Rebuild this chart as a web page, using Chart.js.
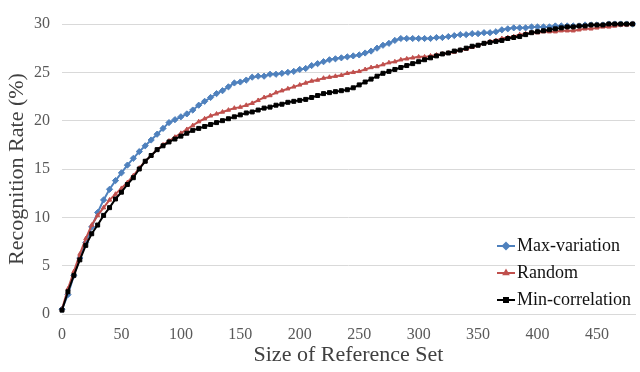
<!DOCTYPE html>
<html>
<head>
<meta charset="utf-8">
<script src="https://cdn.jsdelivr.net/npm/chart.js@4/dist/chart.umd.min.js"></script>
<style>
  html, body { margin: 0; padding: 0; background: #fff; }
  #wrap { width: 640px; height: 372px; }
</style>
</head>
<body>
<div id="wrap"><canvas id="chart" width="640" height="372"></canvas></div>
<script>
// size of reference set
const refSize = [0, 5, 10, 15, 20, 25, 30, 35, 40, 45, 50, 55, 60, 65, 70, 75, 80, 85, 90, 95,
  100, 105, 110, 115, 120, 125, 130, 135, 140, 145, 150, 155, 160, 165, 170, 175, 180, 185, 190, 195,
  200, 205, 210, 215, 220, 225, 230, 235, 240, 245, 250, 255, 260, 265, 270, 275, 280, 285, 290, 295,
  300, 305, 310, 315, 320, 325, 330, 335, 340, 345, 350, 355, 360, 365, 370, 375, 380, 385, 390, 395,
  400, 405, 410, 415, 420, 425, 430, 435, 440, 445, 450, 455, 460, 465, 470, 475, 480];

const xTicks = [0, 50, 100, 150, 200, 250, 300, 350, 400, 450];

const maxVariation = [0.5, 2.0, 4.0, 5.8, 7.4, 9.0, 10.5, 11.8, 12.9, 13.8, 14.6, 15.4, 16.1, 16.8, 17.4, 18.0, 18.6, 19.2, 19.8, 20.1,
  20.4, 20.7, 21.1, 21.6, 22.0, 22.4, 22.8, 23.1, 23.5, 23.9, 24.0, 24.2, 24.5, 24.6, 24.6, 24.8, 24.8, 24.9, 25.0, 25.1,
  25.3, 25.4, 25.7, 25.9, 26.1, 26.3, 26.4, 26.5, 26.6, 26.7, 26.8, 27.0, 27.2, 27.5, 27.8, 28.0, 28.3, 28.5, 28.5, 28.5,
  28.5, 28.5, 28.5, 28.6, 28.6, 28.7, 28.8, 28.9, 28.9, 29.0, 29.0, 29.1, 29.1, 29.2, 29.4, 29.5, 29.6, 29.6, 29.6, 29.7,
  29.7, 29.7, 29.7, 29.8, 29.8, 29.8, 29.8, 29.8, 29.9, 29.9, 29.9, 29.9, 30.0, 30.0, 30.0, 30.0, 30.0];

const random = [0.5, 2.6, 4.4, 6.2, 7.8, 9.2, 10.2, 11.0, 11.8, 12.4, 13.0, 13.6, 14.3, 15.1, 15.8, 16.4, 17.0, 17.5, 17.9, 18.3,
  18.7, 19.1, 19.5, 19.9, 20.2, 20.5, 20.7, 20.9, 21.1, 21.3, 21.4, 21.6, 21.8, 22.1, 22.4, 22.6, 22.9, 23.1, 23.3, 23.5,
  23.7, 23.9, 24.1, 24.2, 24.4, 24.5, 24.6, 24.7, 24.9, 25.0, 25.1, 25.3, 25.5, 25.6, 25.8, 26.0, 26.1, 26.3, 26.4, 26.5,
  26.6, 26.6, 26.7, 26.8, 26.9, 27.0, 27.1, 27.3, 27.4, 27.6, 27.8, 28.0, 28.2, 28.3, 28.5, 28.6, 28.7, 28.9, 29.0, 29.1,
  29.1, 29.2, 29.2, 29.2, 29.3, 29.3, 29.3, 29.4, 29.5, 29.5, 29.6, 29.7, 29.7, 29.8, 29.9, 29.9, 30.0];

const minCorrelation = [0.4, 2.3, 4.0, 5.6, 7.1, 8.3, 9.2, 10.2, 11.0, 11.9, 12.6, 13.4, 14.1, 15.0, 15.8, 16.4, 17.0, 17.4, 17.8, 18.1,
  18.4, 18.7, 19.0, 19.2, 19.4, 19.6, 19.8, 20.0, 20.2, 20.4, 20.6, 20.8, 20.9, 21.1, 21.3, 21.4, 21.6, 21.7, 21.9, 22.0,
  22.1, 22.2, 22.4, 22.6, 22.8, 22.9, 23.0, 23.1, 23.2, 23.4, 23.7, 24.0, 24.3, 24.6, 24.9, 25.1, 25.3, 25.5, 25.7, 25.9,
  26.1, 26.3, 26.5, 26.7, 26.9, 27.0, 27.2, 27.3, 27.5, 27.7, 27.8, 28.0, 28.1, 28.2, 28.3, 28.5, 28.6, 28.7, 28.9, 29.1,
  29.2, 29.3, 29.4, 29.5, 29.6, 29.7, 29.7, 29.8, 29.8, 29.9, 29.9, 29.9, 30.0, 30.0, 30.0, 30.0, 30.0];

const seriesNames = ['Max-variation', 'Random', 'Min-correlation'];

const FONT = '"Liberation Serif", "Times New Roman", serif';

function pts(ys) {
  return ys.map((y, i) => ({ x: refSize[i], y: y }));
}

function makeSet(label, ys, color, style, r) {
  return {
    label: label,
    data: pts(ys),
    borderColor: color,
    backgroundColor: color,
    borderWidth: 2,
    pointStyle: style,
    pointRadius: r,
    pointBorderWidth: 1,
    tension: 0,
    clip: 6
  };
}

// legend drawn inside the plot, lower right
const legendInPlot = {
  id: 'legendInPlot',
  afterDraw(chart) {
    const ctx = chart.ctx;
    const x0 = 497, rows = [246, 273, 300];
    ctx.save();
    chart.data.datasets.slice().reverse().forEach((ds, k) => {
      const y = rows[k];
      ctx.strokeStyle = ds.borderColor;
      ctx.lineWidth = 2;
      ctx.beginPath();
      ctx.moveTo(x0, y);
      ctx.lineTo(x0 + 18, y);
      ctx.stroke();
      ctx.fillStyle = ds.borderColor;
      ctx.strokeStyle = ds.borderColor;
      Chart.helpers.drawPoint(ctx, { pointStyle: ds.pointStyle, radius: ds.pointRadius, borderWidth: 1, rotation: 0 }, x0 + 9, y);
      ctx.fillStyle = '#111';
      ctx.font = '18px ' + FONT;
      ctx.textBaseline = 'middle';
      ctx.textAlign = 'left';
      ctx.fillText(ds.label, x0 + 20, y);
    });
    ctx.restore();
  }
};

const chart = new Chart(document.getElementById('chart').getContext('2d'), {
  type: 'line',
  data: {
    datasets: [
      makeSet(seriesNames[2], minCorrelation, '#000000', 'rect', 2.8),
      makeSet(seriesNames[1], random, '#c0504d', 'triangle', 2.4),
      makeSet(seriesNames[0], maxVariation, '#4f81bd', 'rectRot', 3.1)
    ]
  },
  options: {
    responsive: false,
    animation: false,
    devicePixelRatio: 1,
    layout: { padding: { top: 24, right: 1, left: 0, bottom: 0 } },
    plugins: {
      legend: { display: false },
      tooltip: { enabled: false }
    },
    scales: {
      x: {
        type: 'linear',
        min: 0,
        max: 482,
        afterFit: s => { s.height = 58; s.paddingLeft = 0; s.paddingRight = 0; },
        afterBuildTicks: s => { s.ticks = xTicks.map(v => ({ value: v })); },
        ticks: { autoSkip: false, color: '#595959', font: { family: FONT, size: 16 }, padding: 11, maxRotation: 0 },
        grid: { display: false, drawTicks: false },
        border: { display: true, color: '#d9d9d9', width: 1 },
        title: { display: true, text: 'Size of Reference Set', color: '#404040', font: { family: FONT, size: 22 }, padding: { top: 0, bottom: 4 } }
      },
      y: {
        min: 0,
        max: 30,
        afterFit: s => { s.width = 62; s.paddingTop = 0; s.paddingBottom = 0; },
        ticks: { stepSize: 5, color: '#595959', font: { family: FONT, size: 16 }, padding: 12 },
        grid: { color: '#d9d9d9', drawTicks: false },
        border: { display: false },
        title: { display: true, text: 'Recognition Rate (%)', color: '#404040', font: { family: FONT, size: 22 }, padding: { top: 4, bottom: 0 } }
      }
    }
  },
  plugins: [legendInPlot]
});
</script>
</body>
</html>
